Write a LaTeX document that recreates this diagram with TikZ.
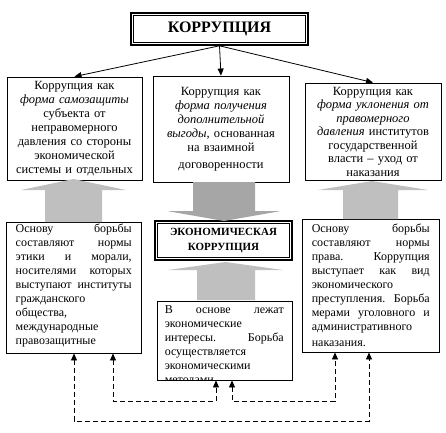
\documentclass[tikz,border=0pt]{standalone}
\usepackage{fontspec}
\setmainfont{Liberation Serif}
\usetikzlibrary{arrows.meta,positioning,calc}
\newlength{\jw}
\newcommand{\jl}[1]{\leavevmode\hbox to\jw{#1}}

\begin{document}
\begin{tikzpicture}[x=1pt,y=-1pt,
  box/.style={draw, line width=0.9pt, inner sep=0pt},
  topbox/.style={box, align=center, text width=132pt, font=\fontsize{12.5}{14}\selectfont},
  btxt/.style={anchor=north west, inner sep=0pt, align=left, font=\fontsize{12}{14}\selectfont},
  head/.style={font=\fontsize{16}{18}\selectfont\bfseries},
  arr/.style={-{Triangle[length=7pt,width=6pt]}, line width=0.8pt},
  dlink/.style={{Triangle[length=7pt,width=6pt]}-{Triangle[length=7pt,width=6pt]}, dash pattern=on 5pt off 3pt, line width=0.8pt},
  blk/.style={fill=black!25},
  blkdark/.style={fill=black!35}]
  \useasboundingbox (0,0) rectangle (446,432); % 全体の大きさ
  \node[box, line width=1.6pt, minimum width=177pt, minimum height=32pt, head] (title) at (219.5,29) {КОРРУПЦИЯ}; % 上の見出し
  \draw[line width=0.7pt] ([shift={(3,3)}]title.north west) rectangle ([shift={(-3,-3)}]title.south east); % 見出しの内側の線
  \node[topbox, minimum width=135pt, minimum height=103pt] (tl) at (74.5,128.5) {Коррупция как\\ \textit{форма самозащиты}\\ субъекта от\\ неправомерного\\ давления со стороны\\ экономической\\ системы и отдельных}; % 左上の枠
  \node[topbox, minimum width=136pt, minimum height=106pt] (tm) at (221,129) {Коррупция как\\ \textit{форма получения}\\ \textit{дополнительной}\\ \textit{выгоды}, основанная\\ на взаимной\\[3pt] договоренности}; % 中央上の枠
  \node[topbox, minimum width=136pt, minimum height=97pt, font=\fontsize{12.5}{13.5}\selectfont] (tr) at (373,131.5) {Коррупция как\\ \textit{форма уклонения от}\\ \textit{правомерного}\\ \textit{давления} институтов\\ государственной\\ власти – уход от\\ наказания}; % 右上の枠
  \draw[arr] (title.south) -- (tl.north); % 左への矢印
  \draw[arr] (title.south) -- (tm.north); % 中央への矢印
  \draw[arr] (title.south) -- (tr.north); % 右への矢印
  \node[box, minimum width=135pt, minimum height=131pt] (bl) at (73.5,287.5) {}; % 左下の枠
  \node[btxt, text width=116pt] (blt) at ([shift={(10,2)}]bl.north west) {\setlength{\jw}{116pt}\jl{Основу\hfill борьбы}\\ \jl{составляют\hfill нормы}\\ \jl{этики\hfill и\hfill морали,}\\ \jl{носителями\hfill которых}\\ \jl{выступают\hfill институты}\\ гражданского\\ общества,\\ международные\\ правозащитные}; % 左下の文
  \node[box, minimum width=137pt, minimum height=133pt] (br) at (370.5,285.5) {}; % 右下の枠
  \node[btxt, text width=118pt] (brt) at ([shift={(10,5)}]br.north west) {\setlength{\jw}{118pt}\jl{Основу\hfill борьбы}\\ \jl{составляют\hfill нормы}\\ \jl{права.\hfill Коррупция}\\ \jl{выступает\hfill как\hfill вид}\\ экономического\\ \jl{преступления.\hfill Борьба}\\ \jl{мерами\hfill уголовного\hfill и}\\ административного\\[2pt] наказания.}; % 右下の文
  \node[box, line width=1.6pt, minimum width=137pt, minimum height=39pt, align=center, font=\fontsize{11}{15}\selectfont\bfseries] (econ) at (223.5,240.5) {ЭКОНОМИЧЕСКАЯ\\ КОРРУПЦИЯ}; % 経済的腐敗の枠
  \draw[line width=0.7pt] ([shift={(3,3)}]econ.north west) rectangle ([shift={(-3,-3)}]econ.south east); % 内側の線
  \node[box, minimum width=135pt, minimum height=79pt] (bm) at (224.5,340.5) {}; % 中央下の枠
  \begin{scope}
    \clip (bm.north west) rectangle (bm.south east); % はみ出た文を切る
    \node[btxt, text width=119pt] (bmt) at ([shift={(8,5)}]bm.north west) {\setlength{\jw}{119pt}\jl{В\hfill основе\hfill лежат}\\ экономические\\ \jl{интересы.\hfill Борьба}\\ осуществляется\\ экономическими\\ методами};
  \end{scope}
  \fill[blk] (45,222) -- (45,190) -- (21,190) -- (73.5,179) -- (126,190) -- (102,190) -- (102,222) -- cycle; % 左の灰色矢印
  \fill[blk] (343,219) -- (343,190) -- (318,190) -- (372,181) -- (428,190) -- (398,190) -- (398,219) -- cycle; % 右の灰色矢印
  \fill[blkdark] (193,182) -- (193,211) -- (167,211) -- (224,221) -- (281,211) -- (255,211) -- (255,182) -- cycle; % 中央の下向き矢印
  \fill[blk] (197,300) -- (197,270) -- (168,270) -- (225.5,262) -- (283,270) -- (255,270) -- (255,300) -- cycle; % 中央の上向き矢印
  \coordinate (o1) at (74,421); % 外側の点線の左端
  \coordinate (o2) at (369,421); % 外側の点線の右端
  \coordinate (i1) at (113,401); % 内側左の点線
  \coordinate (i2) at (216,401);
  \coordinate (i3) at (232,401); % 内側右の点線
  \coordinate (i4) at (335,401);
  \draw[dlink] (o1 |- bl.south) -- (o1) -- (o2) -- (o2 |- br.south); % 左下と右下を結ぶ
  \draw[dlink] (i1 |- bl.south) -- (i1) -- (i2) -- (i2 |- bm.south); % 左下と中央下を結ぶ
  \draw[dlink] (i3 |- bm.south) -- (i3) -- (i4) -- (i4 |- br.south); % 中央下と右下を結ぶ
\end{tikzpicture}
\end{document}
